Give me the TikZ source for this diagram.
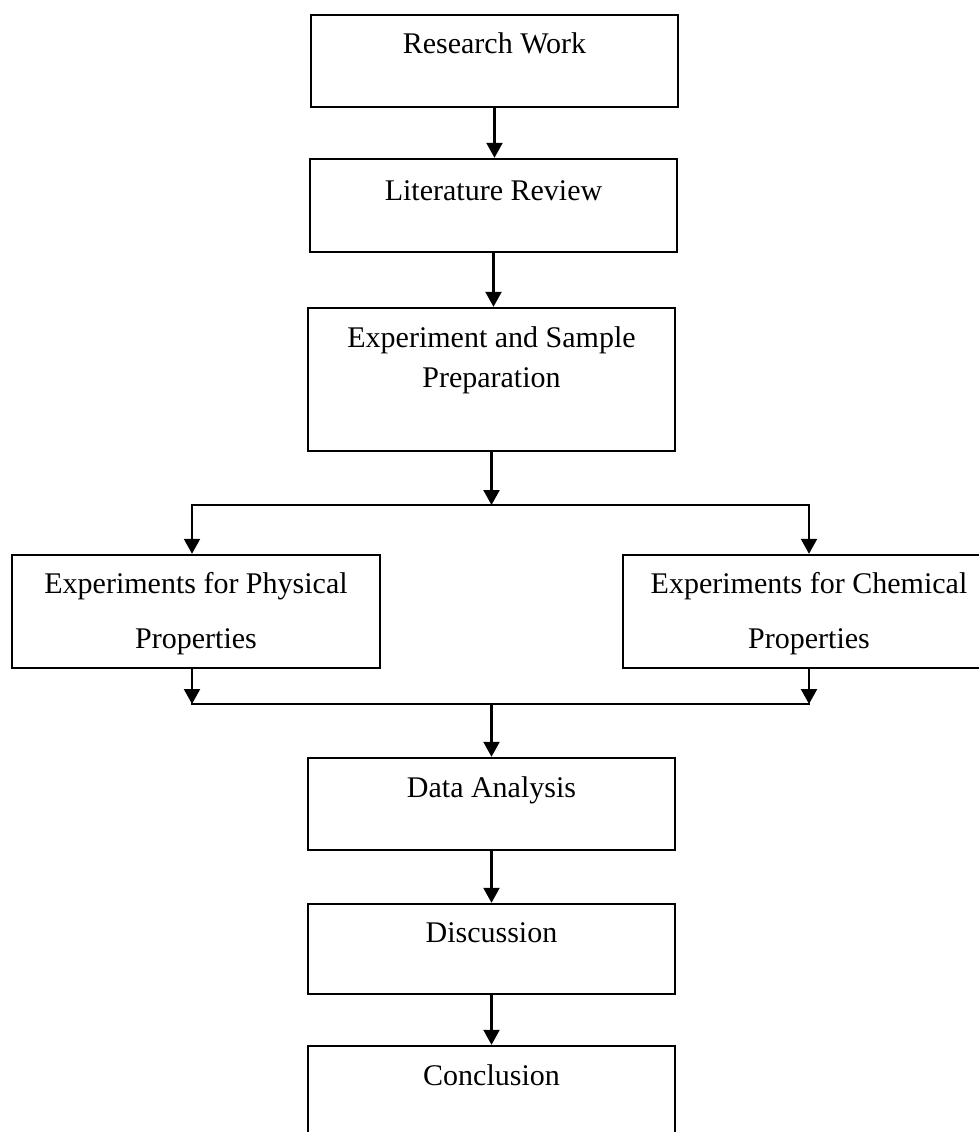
\documentclass[tikz,border=0pt]{standalone}
\usepackage{fontspec}
\setmainfont{Liberation Serif}
\usetikzlibrary{arrows.meta}
\begin{document}
\begin{tikzpicture}[x=1pt,y=-1pt,
  box/.style={draw, line width=2.4pt, inner sep=0pt, line join=miter, minimum width=367pt},
  txt/.style={anchor=base, inner sep=0pt, font=\fontsize{30}{36}\selectfont},
  conn/.style={line width=2.2pt, line join=miter},
  arr/.style={conn, -{Triangle[length=15pt,width=16pt]}},
  biarr/.style={conn, {Triangle[length=15pt,width=16pt]}-{Triangle[length=15pt,width=16pt]}}]
\useasboundingbox (0,0) rectangle (979,1132);
\clip (0,0) rectangle (979,1132);
% boxes
\node[box, minimum height=92pt] (b1) at (494.5,61) {};
\node[box, minimum height=93pt] (b2) at (493.5,205.5) {};
\node[box, minimum height=143pt] (b3) at (491.5,379.5) {};
\node[box, minimum width=368pt, minimum height=113pt] (bl) at (196,611.5) {};
\node[box, minimum width=372pt, minimum height=113pt] (br) at (809,611.5) {};
\node[box, minimum height=92pt] (b5) at (491.5,804) {};
\node[box, minimum height=90pt] (b6) at (491.5,949) {};
\node[box, minimum height=154pt] (b7) at (491.5,1123) {};
% texts
\node[txt] (t1) at (494.5,54) {Research Work};
\node[txt] (t2) at (493.5,200) {Literature Review};
\node[txt] (t3a) at (491.5,347) {Experiment and Sample};
\node[txt] (t3b) at (491.5,387) {Preparation};
\node[txt] (tla) at (196,593) {Experiments for Physical};
\node[txt] (tlb) at (196,648) {Properties};
\node[txt] (tra) at (809,593) {Experiments for Chemical};
\node[txt] (trb) at (809,648) {Properties};
\node[txt] (t5) at (491.5,797) {Data Analysis};
\node[txt] (t6) at (491.5,942) {Discussion};
\node[txt] (t7) at (491.5,1085) {Conclusion};
% junction points
\coordinate (j1) at (491.5,505);
\coordinate (jl) at (192,505);
\coordinate (jr) at (809,505);
\coordinate (kl) at (192,704);
\coordinate (kr) at (809,704);
\coordinate (k1) at (491.5,704);
% connectors
\draw[arr] (b1.south) -- (b1.south |- b2.north);
\draw[arr] (b2.south) -- (b2.south |- b3.north);
\draw[arr] (b3.south) -- (j1);
\draw[biarr] (jl |- bl.north) -- (jl) -- (jr) -- (jr |- br.north);
\draw[arr] (bl.south -| kl) -- (kl);
\draw[arr] (br.south -| kr) -- (kr);
\draw[conn, line cap=rect] (kl) -- (kr);
\draw[arr] (k1) -- (k1 |- b5.north);
\draw[arr] (b5.south) -- (b6.north);
\draw[arr] (b6.south) -- (b7.north);
\end{tikzpicture}
\end{document}
